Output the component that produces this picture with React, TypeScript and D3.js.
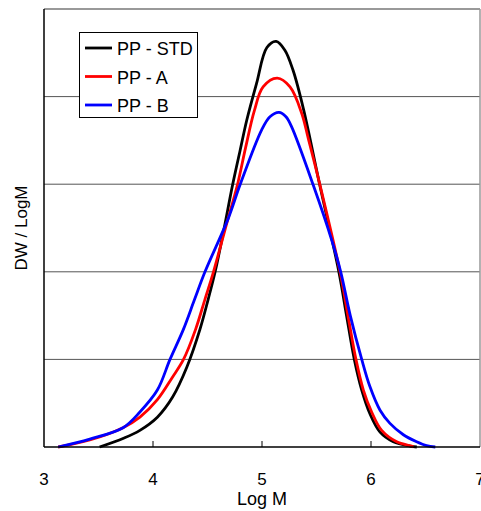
import React from 'react';
import * as d3 from 'd3';

// [Log M, DW/LogM]
const ppStd: [number, number][] = [
  [3.51, 0], [3.73, 0.1], [3.88, 0.19], [4.04, 0.34], [4.18, 0.57], [4.31, 0.91],
  [4.43, 1.34], [4.505, 1.68], [4.57, 2.0], [4.65, 2.48], [4.73, 2.99], [4.8, 3.39],
  [4.86, 3.73], [4.95, 4.15], [5.045, 4.56], [5.13, 4.63], [5.21, 4.53], [5.285, 4.3],
  [5.38, 3.86], [5.53, 2.99], [5.705, 2.0], [5.777, 1.49], [5.847, 1.0], [5.915, 0.65],
  [5.99, 0.38], [6.083, 0.17], [6.205, 0.06], [6.36, 0.01], [6.42, 0],
];
const ppA: [number, number][] = [
  [3.13, 0], [3.42, 0.08], [3.725, 0.22], [3.88, 0.34], [4.04, 0.54], [4.18, 0.8],
  [4.28, 1.0], [4.39, 1.34], [4.48, 1.7], [4.555, 2.0], [4.676, 2.55], [4.774, 2.99],
  [4.85, 3.42], [4.93, 3.84], [5.01, 4.11], [5.14, 4.21], [5.257, 4.11], [5.364, 3.81],
  [5.425, 3.52], [5.532, 2.99], [5.716, 2.0], [5.79, 1.49], [5.862, 1.0], [5.93, 0.65],
  [6.006, 0.4], [6.098, 0.19], [6.236, 0.06], [6.373, 0.01], [6.39, 0],
];
const ppB: [number, number][] = [
  [3.13, 0], [3.42, 0.09], [3.725, 0.22], [3.88, 0.4], [4.04, 0.65], [4.156, 1.0],
  [4.278, 1.34], [4.38, 1.68], [4.477, 2.0], [4.691, 2.61], [4.798, 2.99], [4.997, 3.62],
  [5.073, 3.77], [5.156, 3.82], [5.22, 3.77], [5.27, 3.66], [5.47, 2.99], [5.64, 2.36],
  [5.722, 2.0], [5.81, 1.5], [5.915, 1.0], [5.99, 0.69], [6.083, 0.42], [6.174, 0.27],
  [6.297, 0.14], [6.419, 0.06], [6.51, 0.015], [6.59, 0],
];

const seriesNames = ['PP - STD', 'PP - A', 'PP - B'];
const seriesColors = ['#000000', '#ff0000', '#0000ff'];
const xTicks = [3, 4, 5, 6, 7];
const gridValues = [1, 2, 3, 4];

const W = 481;
const H = 511;
const left = 44, right = 480, top = 9, bottom = 447;

export default function App() {
  const x = d3.scaleLinear().domain([3, 7]).range([left, right]);
  const y = d3.scaleLinear().domain([0, 5]).range([bottom, top]);
  const line = d3.line<[number, number]>()
    .x(d => x(d[0]))
    .y(d => y(d[1]))
    .curve(d3.curveCatmullRom);
  const all = [ppStd, ppA, ppB];
  const font = 'Liberation Sans, Arial, sans-serif';

  return (
    <svg width={W} height={H} style={{ position: 'absolute', left: 0, top: 0, background: '#fff' }}>
      {gridValues.map(v => (
        <line key={v} x1={left} x2={right} y1={y(v)} y2={y(v)} stroke="#555" strokeWidth={1} />
      ))}
      <line x1={left} x2={right} y1={top} y2={top} stroke="#777" strokeWidth={1.5} />
      <line x1={right} x2={right} y1={top} y2={bottom} stroke="#999" strokeWidth={1.5} />
      {all.map((s, i) => (
        <path key={i} d={line(s) || ''} fill="none" stroke={seriesColors[i]} strokeWidth={2.8}
          strokeLinejoin="round" />
      ))}
      <line x1={left} x2={left} y1={top} y2={bottom} stroke="#000" strokeWidth={1.5} />
      <line x1={left} x2={right} y1={bottom} y2={bottom} stroke="#000" strokeWidth={1.5} />
      {xTicks.slice(1, -1).map(t => (
        <line key={t} x1={x(t)} x2={x(t)} y1={bottom} y2={bottom - 6} stroke="#000" strokeWidth={1} />
      ))}
      {xTicks.map(t => (
        <text key={t} x={x(t)} y={485} textAnchor="middle" fontFamily={font} fontSize={17}>{t}</text>
      ))}
      <text x={(left + right) / 2} y={505} textAnchor="middle" fontFamily={font} fontSize={18}>Log M</text>
      <text transform="translate(27,228) rotate(-90)" textAnchor="middle" fontFamily={font} fontSize={17}>DW / LogM</text>

      <rect x={79.5} y={32.5} width={118} height={85} fill="#fff" stroke="#000" strokeWidth={1} />
      {seriesNames.map((n, i) => (
        <g key={n}>
          <line x1={85} x2={112} y1={48 + i * 28.5} y2={48 + i * 28.5} stroke={seriesColors[i]} strokeWidth={2.8} />
          <text x={117} y={55 + i * 28.5} fontFamily={font} fontSize={18}>{n}</text>
        </g>
      ))}
    </svg>
  );
}
